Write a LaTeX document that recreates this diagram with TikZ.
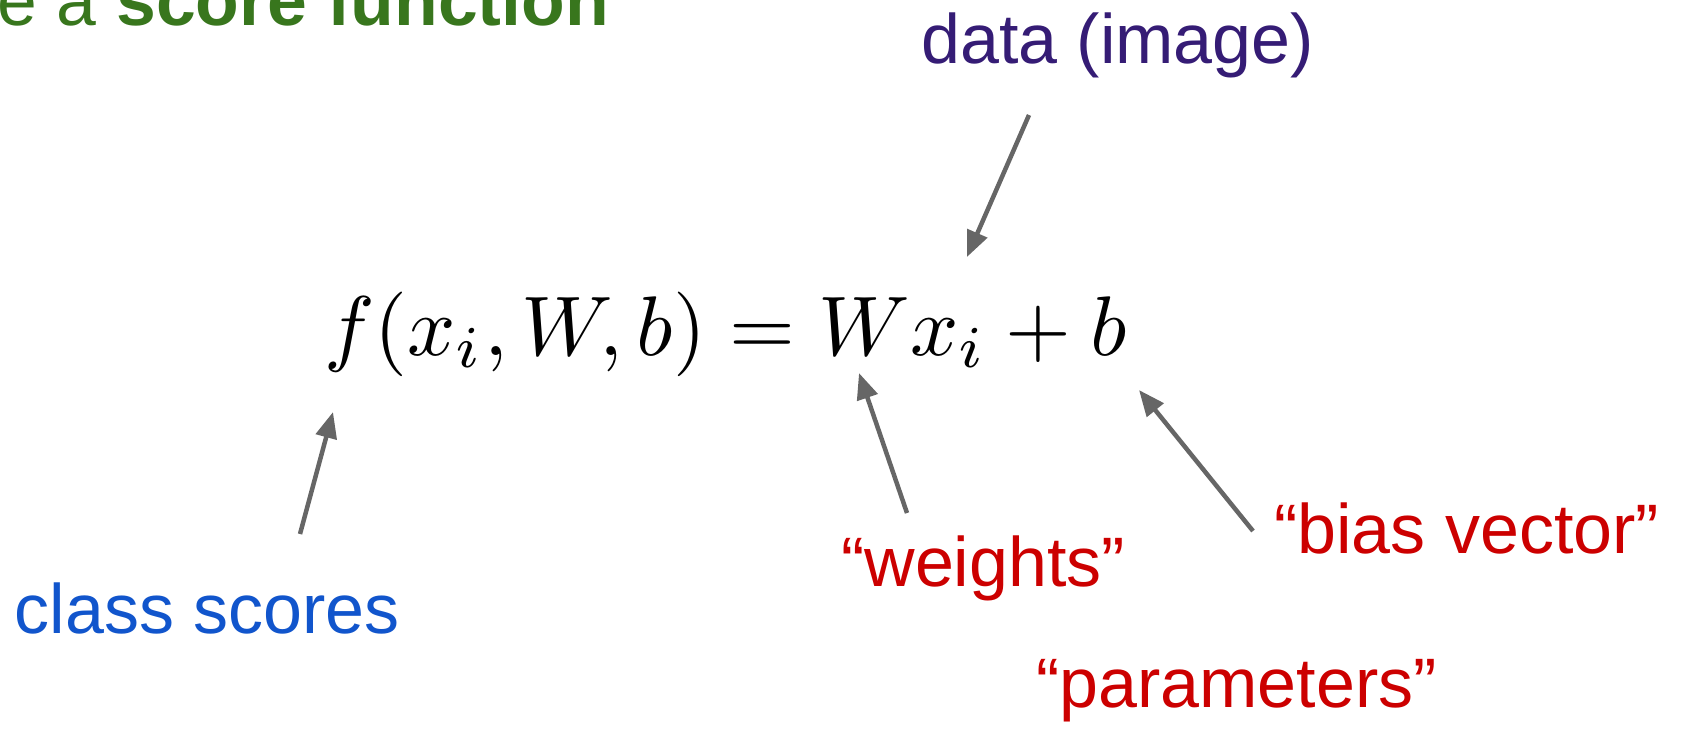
\documentclass[tikz,border=0pt]{standalone}
\usepackage{graphicx}
\usepackage[no-math]{fontspec}
\newfontfamily\arial{Liberation Sans}
\usetikzlibrary{arrows.meta}
\definecolor{tgreen}{HTML}{38761D}
\definecolor{tpurple}{HTML}{351C75}
\definecolor{tblue}{HTML}{1155CC}
\definecolor{tred}{HTML}{CC0000}
\definecolor{tgray}{HTML}{666666}
\tikzset{
  lbl/.style={inner sep=0pt, anchor=base west, font=\arial\fontsize{70}{84}\selectfont},
  ptr/.style={draw=tgray, line width=4.5pt, -{Triangle[length=26pt,width=21pt]}, shorten >=0pt}
}
\begin{document}
\begin{tikzpicture}[x=1pt,y=-1pt]
\useasboundingbox (0,0) rectangle (1682,732);
\node[lbl, text=tgreen, font=\arial\fontsize{71.5}{86}\selectfont] (title) at (-3,25) {e a \textbf{score function}};
\node[lbl, text=tpurple] (data) at (921,63) {data (image)};
\node[inner sep=0pt, anchor=base west, font=\normalsize] (eq) at (324,355) {\scalebox{8.46}{$f(x_i,W,b)=Wx_i+b$}};
\node[lbl, anchor=base east, text=tblue] (cls) at (400,633) {class scores};
\node[lbl, text=tred] (wts) at (841,586) {“weights”};
\node[lbl, text=tred] (bias) at (1274,553) {“bias vector”};
\node[lbl, text=tred] (par) at (1036,707) {“parameters”};
\coordinate (dataS) at (1029,115);
\coordinate (dataE) at (967,257);
\coordinate (clsS) at (300,534);
\coordinate (clsE) at (333,412);
\coordinate (wS) at (907,513);
\coordinate (wE) at (859,373);
\coordinate (bS) at (1253,531);
\coordinate (bE) at (1139,390);
\draw[ptr] (dataS) -- (dataE);
\draw[ptr] (clsS) -- (clsE);
\draw[ptr] (wS) -- (wE);
\draw[ptr] (bS) -- (bE);
\end{tikzpicture}
\end{document}
